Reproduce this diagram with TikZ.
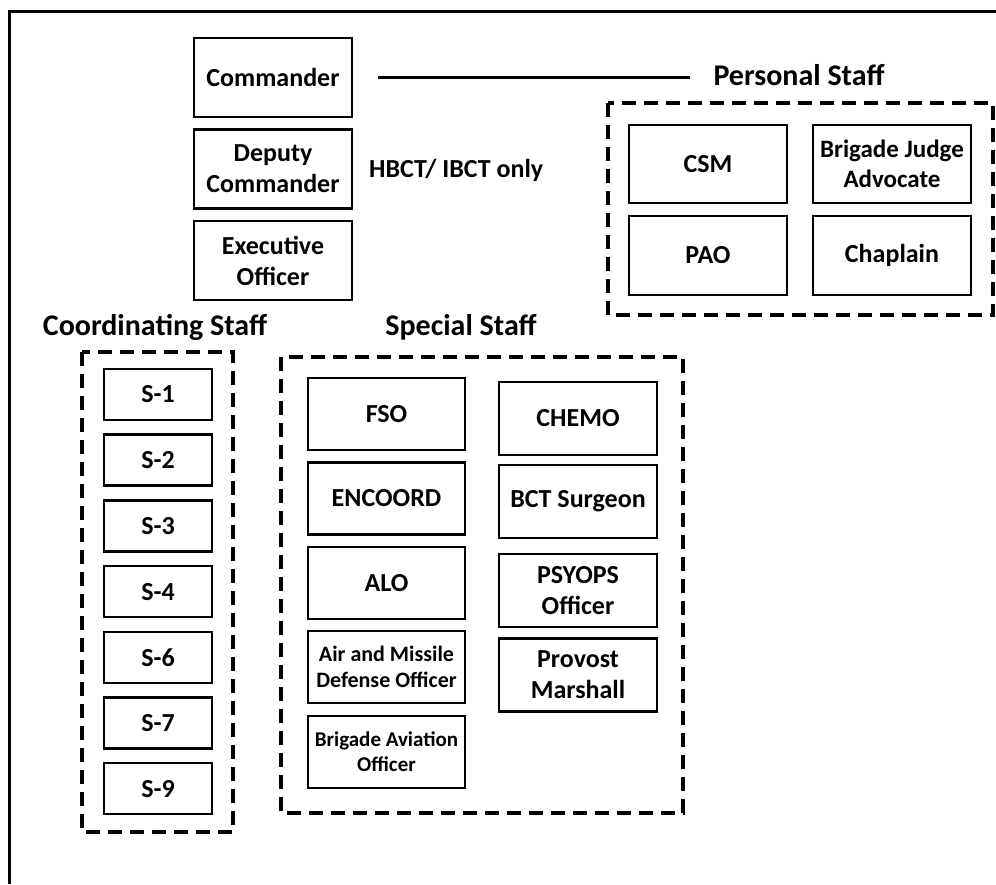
\documentclass[tikz,border=0pt]{standalone}
\usepackage{fontspec}
\setmainfont{Carlito}
\usetikzlibrary{calc}
\begin{document}
\begin{tikzpicture}[x=1pt,y=-1pt,
  staffbox/.style={draw,line width=2.5pt,minimum width=158pt,minimum height=79pt,
    align=center,inner sep=0pt,font=\fontsize{26}{31}\selectfont\bfseries},
  sbox/.style={staffbox,minimum width=108pt,minimum height=51pt},
  groupbox/.style={draw,line width=4pt,dash pattern=on 14pt off 8pt},
  grouptitle/.style={inner sep=0pt,font=\fontsize{30}{36}\selectfont\bfseries}]
\useasboundingbox (0,0) rectangle (996,884);
\draw[line width=3pt] (9,884)--(9,11)--(996,11);
%
\node[staffbox] (cmd) at (273,77.5) {Commander};
\node[staffbox] (dcmd) at (273,169) {Deputy\\Commander};
\node[staffbox] (xo) at (273,260.5) {Executive\\Officer};
\node[inner sep=0pt,anchor=west,font=\fontsize{26}{31}\selectfont\bfseries] (hbct) at (369,170) {HBCT/ IBCT only};
%
\node[grouptitle] (pstaff) at (799,75) {Personal Staff};
\draw[line width=2.5pt,shorten <=25pt,shorten >=23pt] (cmd.east)--(cmd.east-|pstaff.west);
\draw[groupbox] (608,103) rectangle (993,315);
\node[staffbox,minimum height=78pt] (csm) at (708,164) {CSM};
\node[staffbox,minimum height=78pt,font=\fontsize{25}{30}\selectfont\bfseries] (bja) at (892,164) {Brigade Judge\\Advocate};
\node[staffbox] (pao) at (708,255.5) {PAO};
\node[staffbox] (chap) at (892,255.5) {Chaplain};
%
\node[grouptitle] (cstaff) at (155,327) {Coordinating Staff};
\draw[groupbox] (82,352) rectangle (233,832);
\foreach \n [count=\i from 0] in {1,2,3,4,6,7,9}
  \node[sbox] (s\n) at (158,394.5+65.7*\i) {S-\n};
%
\node[grouptitle] (sstaff) at (461,327) {Special Staff};
\draw[groupbox] (281,357) rectangle (683,813);
\node[staffbox,minimum width=157pt,minimum height=72pt] (fso) at (386.5,414) {FSO};
\node[staffbox,minimum width=157pt,minimum height=72pt] (encoord) at (386.5,498.5) {ENCOORD};
\node[staffbox,minimum width=157pt,minimum height=72pt] (alo) at (386.5,583) {ALO};
\node[staffbox,minimum width=157pt,minimum height=72pt,font=\fontsize{22}{26}\selectfont\bfseries] (amdo) at (386.5,667) {Air and Missile\\Defense Officer};
\node[staffbox,minimum width=157pt,minimum height=72pt,font=\fontsize{21}{25}\selectfont\bfseries] (bao) at (386.5,752) {Brigade Aviation\\Officer};
\node[staffbox,minimum height=73pt] (chemo) at (578,418.5) {CHEMO};
\node[staffbox,minimum height=73pt] (surg) at (578,501.5) {BCT Surgeon};
\node[staffbox,minimum height=73pt] (psyops) at (578,590.5) {PSYOPS\\Officer};
\node[staffbox,minimum height=73pt] (pm) at (578,675) {Provost\\Marshall};
\end{tikzpicture}
\end{document}
